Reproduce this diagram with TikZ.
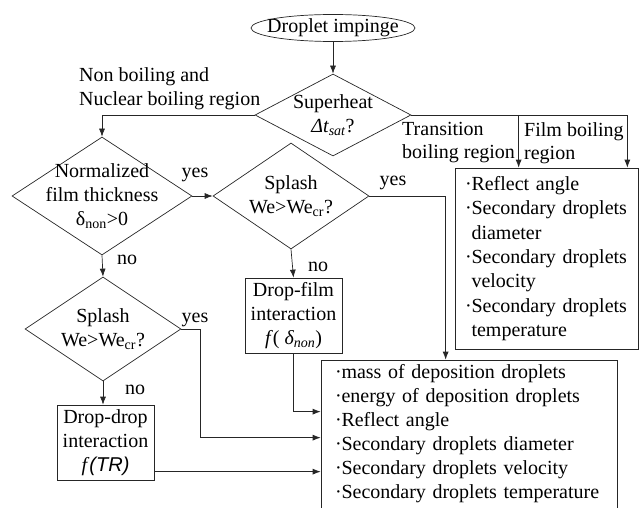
\documentclass[tikz,border=0pt]{standalone}
\usepackage{fontspec}
\setmainfont{Liberation Serif}
\setsansfont{Liberation Sans}
\usetikzlibrary{arrows.meta,positioning,shapes.geometric,calc}
\newcommand{\dotitem}{\makebox[6.5pt][l]{·}}
\newcommand{\dotgap}{\hspace*{6.5pt}}

\begin{document}
\begin{tikzpicture}[
    x=1pt, y=-1pt,
    >={Latex[length=8pt,width=6pt]},
    every node/.style={font=\fontsize{20}{24}\selectfont},
    line/.style={draw=black!85, line width=0.7pt},
    decision/.style={draw=black!85, line width=0.7pt, diamond, inner sep=-20pt, align=center},
    process/.style={draw=black!85, line width=0.7pt, rectangle, inner sep=0pt, minimum width=97pt, minimum height=75pt, align=center},
    result/.style={draw=black!85, line width=0.7pt, rectangle, align=left, inner ysep=0pt},
    tag/.style={inner sep=0pt}
]
  \useasboundingbox (0,0) rectangle (642,508);

  % Start
  \node[draw=black!85, line width=0.7pt, ellipse, inner xsep=-20pt, inner ysep=-4pt, minimum width=164pt, minimum height=27pt] (start) at (333,28) {Droplet impinge};
  % Superheat check
  \node[decision, minimum width=156pt, minimum height=82pt] (superheat) at (333,115) {Superheat\\\textit{Δt\textsubscript{sat}}?};
  % Film thickness check
  \node[decision, minimum width=180pt, minimum height=118pt] (normalized) at (102,196) {Normalized\\film thickness\\δ\textsubscript{non}>0};
  % Splash checks
  \node[decision, minimum width=156pt, minimum height=106pt] (splash1) at (291,196) {Splash\\We>We\textsubscript{cr}?};
  \node[decision, minimum width=156pt, minimum height=104pt] (splash2) at (103,329) {Splash\\We>We\textsubscript{cr}?};
  % Interaction models
  \node[process] (dropfilm) at (293.5,315.5) {Drop-film\\interaction\\\textit{f}( \textit{δ\textsubscript{non}})};
  \node[process] (dropdrop) at (105.5,442.5) {Drop-drop\\interaction\\\textit{f}\textsf{\textit{(TR)}}};
  % Outputs
  \node[result, font=\fontsize{20}{24.3}\selectfont, text width=163pt, inner xsep=10pt, minimum height=181pt] (filmbox) at (546.5,258.5) {\dotitem Reflect angle\\\dotitem Secondary droplets\\\dotgap diameter\\\dotitem Secondary droplets\\\dotgap velocity\\\dotitem Secondary droplets\\\dotgap temperature};
  \node[result, text width=268pt, inner xsep=14pt, minimum height=148pt] (resbox) at (469,434) {\dotitem mass of deposition droplets\\\dotitem energy of deposition droplets\\\dotitem Reflect angle\\\dotitem Secondary droplets diameter\\\dotitem Secondary droplets velocity\\\dotitem Secondary droplets temperature};

  % Region labels
  \node[tag, anchor=west, align=left] (nonlab) at (79,89) {Non boiling and\\Nuclear boiling region};
  \node[tag, anchor=west, align=left, font=\fontsize{20}{23}\selectfont] (translab) at (402,143) {Transition\\boiling region};
  \node[tag, anchor=west, align=left, font=\fontsize{20}{23}\selectfont] (filmlab) at (524,143) {Film boiling\\region};

  % yes / no labels
  \node[tag] (yes1) at (195,175) {yes};
  \node[tag] (yes2) at (393,183) {yes};
  \node[tag] (yes3) at (195,320) {yes};
  \node[tag] (no1) at (127,260) {no};
  \node[tag] (no2) at (318,267) {no};
  \node[tag] (no3) at (135,390) {no};

  % Connections
  \coordinate (filmin) at ($(filmbox.north east)+(-11,0)$);
  \coordinate (transin) at ($(filmbox.north west)+(64,0)$);
  \coordinate (splashin) at ($(resbox.north west)+(125,0)$);
  \coordinate (filmres) at ($(resbox.north west)+(0,52)$);
  \coordinate (splashres) at ($(resbox.north west)+(0,78)$);
  \coordinate (dropres) at ($(resbox.north west)+(0,112)$);

  \draw[line, ->] (start) -- (superheat);
  \draw[line, ->] (superheat.west) -| (normalized.north);
  \draw[line, ->] (superheat.east) -| (filmin);
  \draw[line, ->] (superheat.east -| transin) -- (transin);
  \draw[line, ->] (normalized.east) -- (splash1.west);
  \draw[line, ->] (normalized.south) -- (splash2.north);
  \draw[line, ->] (splash1.east) -| (splashin);
  \draw[line, ->] (splash1.south) -- (dropfilm.north);
  \draw[line, ->] (splash2.south) -- (splash2.south |- dropdrop.north);
  \draw[line, ->] (dropfilm.south) |- (filmres);
  \draw[line, ->] (splash2.east) -- ++(19,0) |- (splashres);
  \draw[line, ->] (dropdrop.east |- dropres) -- (dropres);
\end{tikzpicture}
\end{document}
